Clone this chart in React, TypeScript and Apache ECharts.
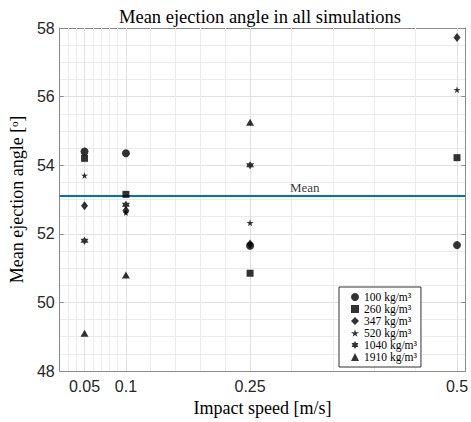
import React, { useEffect, useRef } from "react";
import * as echarts from "echarts";

// ---- data ----
const speeds = [0.05, 0.1, 0.25, 0.5];
const d100 = [54.4, 54.35, 51.65, 51.67];
const d260 = [54.2, 53.15, 50.85, 54.22];
const d347 = [52.82, 52.68, 51.7, 57.72];
const d520 = [53.7, 52.62, 52.32, 56.2];
const d1040 = [51.8, 52.85, 54.0, null];
const d1910 = [49.1, 50.8, 55.25, null];
const meanValue = 53.1;
const meanLabelX = 0.316;

const xTicks = [0.05, 0.1, 0.25, 0.5];
const xMinorGrid = [0.03, 0.04, 0.06, 0.07, 0.08, 0.09, 0.13, 0.16, 0.19, 0.22, 0.3, 0.35, 0.4, 0.45];
const seriesNames = ["100 kg/m³", "260 kg/m³", "347 kg/m³", "520 kg/m³", "1040 kg/m³", "1910 kg/m³"];

const STAR = "path://M50,0 L61,35 L98,35 L68,57 L79,91 L50,70 L21,91 L32,57 L2,35 L39,35 Z";
const HEXA = "path://M50,0 L64,25 L93,25 L79,50 L93,75 L64,75 L50,100 L36,75 L7,75 L21,50 L7,25 L36,25 Z";

const SERIF = "'Liberation Serif', 'DejaVu Serif', serif";
const SANS = "'Liberation Sans', Arial, sans-serif";
const AXIS_COLOR = "#8a8a8a";
const TEXT_COLOR = "#262626";

export default function App() {
  const ref = useRef<HTMLDivElement>(null);
  useEffect(() => {
    if (!ref.current) return;
    const chart = echarts.init(ref.current, null, { renderer: "svg" });
    const allSeries = [d100, d260, d347, d520, d1040, d1910];
    const symbols: any[] = ["circle", "rect", "diamond", STAR, HEXA, "triangle"];
    const sizes: any[] = [8, 7, [7, 9], 7, 8, [8, 7]];

    const scatterSeries = allSeries.map((vals, i) => ({
      type: "scatter",
      name: seriesNames[i],
      symbol: symbols[i],
      symbolSize: sizes[i],
      symbolKeepAspect: false,
      itemStyle: { color: "#000" },
      z: 5,
      data: speeds
        .map((s, j) => (vals[j] == null ? null : [s, vals[j]]))
        .filter((p) => p !== null),
    }));

    const gridLines = [
      ...xTicks.map((v) => ({ xAxis: v, lineStyle: { color: "#e0e0e0", width: 1, type: "solid" } })),
      ...xMinorGrid.map((v) => ({ xAxis: v, lineStyle: { color: "#ececec", width: 1, type: "solid" } })),
    ];

    const option: any = {
      animation: false,
      grid: { left: 53, top: 28, right: 3, bottom: 47, containLabel: false },
      graphic: [
        {
          type: "text",
          x: 260,
          y: 17,
          style: {
            text: "Mean ejection angle in all simulations",
            fontFamily: SERIF,
            fontSize: 18.5,
            fill: "#000",
            textAlign: "center",
            textVerticalAlign: "middle",
          },
        },
      ],
      legend: {
        show: true,
        orient: "vertical",
        left: 339,
        top: 287,
        z: 20,
        padding: [4, 4, 4, 12],
        itemWidth: 8,
        itemHeight: 8,
        itemGap: 0,
        backgroundColor: "#fff",
        borderColor: "#333",
        borderWidth: 1,
        data: seriesNames,
        textStyle: { fontFamily: SERIF, fontSize: 11.5, color: "#000", lineHeight: 11.5 },
      },
      xAxis: [
        {
          type: "value",
          position: "bottom",
          min: 0.02,
          max: 0.51,
          name: "Impact speed [m/s]",
          nameLocation: "middle",
          nameGap: 28,
          nameTextStyle: { fontFamily: SERIF, fontSize: 18, color: "#000" },
          axisLine: { show: true, onZero: false, lineStyle: { color: AXIS_COLOR } },
          axisTick: { show: true, inside: true, length: 4, customValues: xTicks, lineStyle: { color: AXIS_COLOR } },
          axisLabel: {
            customValues: xTicks,
            formatter: (v: number) => String(v),
            fontFamily: SANS,
            fontSize: 16,
            color: TEXT_COLOR,
            margin: 7,
          },
          splitLine: { show: false },
        },
        {
          type: "value",
          position: "top",
          min: 0.02,
          max: 0.51,
          axisLine: { show: true, onZero: false, lineStyle: { color: AXIS_COLOR } },
          axisTick: { show: true, inside: true, length: 4, customValues: xTicks, lineStyle: { color: AXIS_COLOR } },
          axisLabel: { show: false },
          splitLine: { show: false },
        },
      ],
      yAxis: [
        {
          type: "value",
          position: "left",
          min: 48,
          max: 58,
          interval: 2,
          name: "Mean ejection angle [ᵒ]",
          nameLocation: "middle",
          nameGap: 27,
          nameTextStyle: { fontFamily: SERIF, fontSize: 18, color: "#000" },
          axisLine: { show: true, onZero: false, lineStyle: { color: AXIS_COLOR } },
          axisTick: { show: true, inside: true, length: 4, lineStyle: { color: AXIS_COLOR } },
          axisLabel: { fontFamily: SANS, fontSize: 16, color: TEXT_COLOR, margin: 5 },
          splitLine: { show: true, lineStyle: { color: "#e0e0e0", width: 1 } },
          minorTick: { show: false, splitNumber: 4 },
          minorSplitLine: { show: true, lineStyle: { color: "#ececec", width: 1 } },
        },
        {
          type: "value",
          position: "right",
          min: 48,
          max: 58,
          interval: 2,
          axisLine: { show: true, onZero: false, lineStyle: { color: AXIS_COLOR } },
          axisTick: { show: true, inside: true, length: 4, lineStyle: { color: AXIS_COLOR } },
          axisLabel: { show: false },
          splitLine: { show: false },
        },
      ],
      series: [
        {
          type: "line",
          name: "grid",
          data: [],
          z: 1,
          silent: true,
          markLine: {
            silent: true,
            z: 1,
            symbol: ["none", "none"],
            label: { show: false },
            data: gridLines,
          },
        },
        {
          type: "line",
          name: "Mean",
          data: [],
          z: 3,
          markLine: {
            silent: true,
            z: 3,
            symbol: ["none", "none"],
            label: { show: false },
            lineStyle: { color: "#0072BD", width: 2, type: "solid" },
            data: [{ yAxis: meanValue }],
          },
        },
        {
          type: "scatter",
          name: "meanLabel",
          symbolSize: 0,
          data: [[meanLabelX, meanValue]],
          z: 4,
          label: {
            show: true,
            position: "top",
            distance: 2,
            formatter: "Mean",
            fontFamily: SERIF,
            fontSize: 13,
            color: "#000",
          },
        },
        ...scatterSeries,
      ],
    };
    chart.setOption(option);
    return () => chart.dispose();
  }, []);
  return <div ref={ref} style={{ width: 471, height: 422, position: "absolute", left: 0, top: 0 }} />;
}
